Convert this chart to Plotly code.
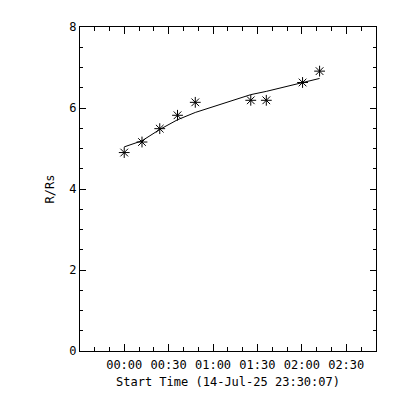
import plotly.graph_objects as go

# Observation times (start 14-Jul-25 23:30:07)
obs_times = ["2025-07-15 00:00:00", "2025-07-15 00:12:00", "2025-07-15 00:24:00",
             "2025-07-15 00:36:00", "2025-07-15 00:48:00", "2025-07-15 01:25:30",
             "2025-07-15 01:36:00", "2025-07-15 02:00:30", "2025-07-15 02:12:00"]
r_rs = [4.90, 5.16, 5.49, 5.82, 6.14, 6.19, 6.19, 6.63, 6.91]

# Fitted height curve (at the same times)
fit_r = [5.04, 5.19, 5.47, 5.71, 5.89, 6.33, 6.41, 6.64, 6.73]

x_range = ["2025-07-14 23:30:07", "2025-07-15 02:50:07"]
y_range = [0, 8]
x_title = "Start Time (14-Jul-25 23:30:07)"
y_title = "R/Rs"

FONT = "DejaVu Sans Mono"

fig = go.Figure()
fig.add_trace(go.Scatter(x=obs_times, y=fit_r, mode="lines",
                         line=dict(color="black", width=1), showlegend=False))
fig.add_trace(go.Scatter(x=obs_times, y=r_rs, mode="markers",
                         marker=dict(symbol="asterisk-open", size=9, color="black",
                                     line=dict(color="black", width=1)),
                         showlegend=False))

fig.update_layout(
    width=400, height=400,
    margin=dict(l=72, r=32, t=15, b=57),
    paper_bgcolor="white", plot_bgcolor="white",
    font=dict(family=FONT, size=12, color="black"),
    xaxis=dict(
        type="date", range=x_range, tick0="2025-07-15 00:00:00", dtick=1800000,
        tickformat="%H:%M", ticks="inside", ticklen=7, tickwidth=1, tickcolor="black",
        showline=True, linecolor="black", linewidth=1, mirror="ticks",
        showgrid=False, zeroline=False, ticklabelstandoff=3,
        minor=dict(ticks="inside", ticklen=4, tickwidth=1, tickcolor="black",
                   dtick=600000, tick0="2025-07-15 00:00:00", showgrid=False),
        title=dict(text=x_title, standoff=6, font=dict(family=FONT, size=12)),
        tickfont=dict(family=FONT, size=12),
    ),
    yaxis=dict(
        range=y_range, tick0=0, dtick=2, ticks="inside", ticklen=6, tickwidth=1,
        tickcolor="black", showline=True, linecolor="black", linewidth=1,
        mirror="ticks", showgrid=False, zeroline=False,
        minor=dict(ticks="inside", ticklen=3, tickwidth=1, tickcolor="black",
                   dtick=0.5, showgrid=False),
        title=dict(text=y_title, standoff=12, font=dict(family=FONT, size=12)),
        tickfont=dict(family=FONT, size=12),
    ),
)

fig.write_html("out.html")
